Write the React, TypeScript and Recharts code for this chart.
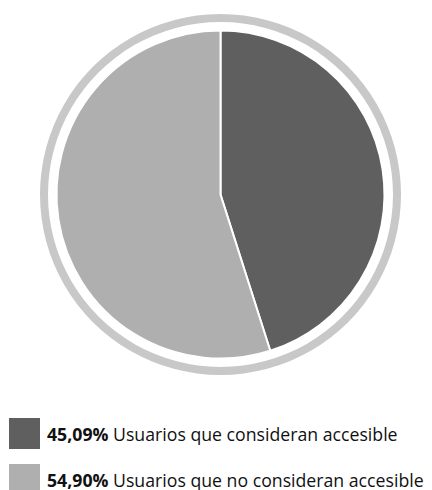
import { PieChart, Pie, Cell, Legend } from 'recharts';

const labels = ['Usuarios que consideran accesible', 'Usuarios que no consideran accesible'];
const shares = [45.09, 54.9];
const shareText = ['45,09%', '54,90%'];
const colors = ['#5f5f5f', '#afafaf'];

const data = labels.map((name, i) => ({ name, value: shares[i], text: shareText[i], color: colors[i] }));
const ring = [{ name: 'ring', value: 1 }];

const renderLegend = () => (
  <div style={{ fontFamily: '"Open Sans", sans-serif', fontSize: 17.7, color: '#111' }}>
    {data.map((d) => (
      <div key={d.name} style={{ display: 'flex', alignItems: 'center', height: 31, marginBottom: 15 }}>
        <span style={{ width: 31, height: 31, background: d.color, display: 'inline-block', marginRight: 7, flexShrink: 0 }} />
        <span style={{ whiteSpace: 'nowrap' }}>
          <b>{d.text}</b> {d.name}
        </span>
      </div>
    ))}
  </div>
);

export default function App() {
  return (
    <div style={{ position: 'absolute', left: 0, top: 0, width: 432, height: 490, background: '#fff', overflow: 'hidden' }}>
      <PieChart width={432} height={490} margin={{ top: 0, right: 0, bottom: 0, left: 0 }}>
        <Pie
          data={ring}
          dataKey="value"
          cx={220.5}
          cy={194.5}
          innerRadius={172.5}
          outerRadius={180.5}
          fill="#c8c8c8"
          stroke="none"
          isAnimationActive={false}
        />
        <Pie
          data={data}
          dataKey="value"
          nameKey="name"
          cx={220.5}
          cy={194.5}
          outerRadius={164}
          startAngle={90}
          endAngle={-270}
          stroke="#ffffff"
          strokeWidth={2}
          isAnimationActive={false}
        >
          {data.map((d) => (
            <Cell key={d.name} fill={d.color} />
          ))}
        </Pie>
        <Legend
          content={renderLegend}
          wrapperStyle={{ position: 'absolute', left: 9, top: 418, width: 'auto' }}
        />
      </PieChart>
    </div>
  );
}
